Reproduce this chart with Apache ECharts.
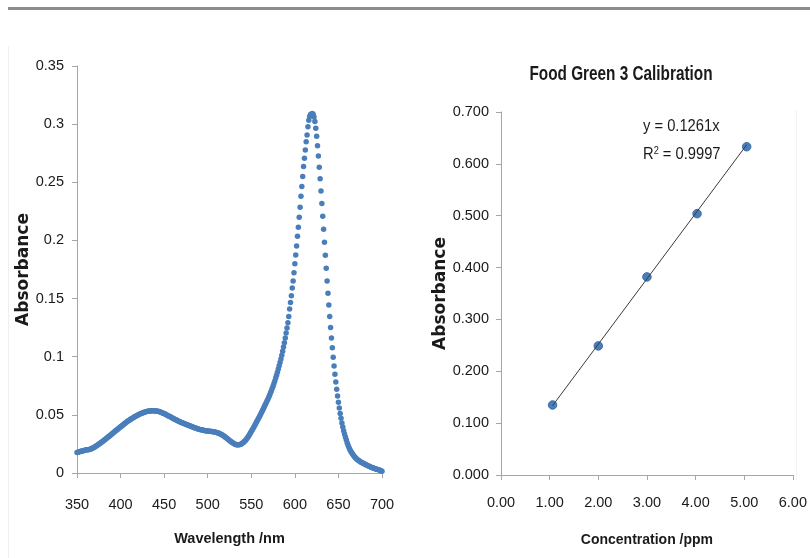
<!DOCTYPE html>
<html>
<head>
<meta charset="utf-8">
<script src="https://cdn.jsdelivr.net/npm/echarts@6/dist/echarts.min.js"></script>
<style>
  html, body { margin: 0; padding: 0; background: #fff; }
  #chart { width: 810px; height: 558px; }
</style>
</head>
<body>
<div id="chart"></div>
<script>
// 左图：吸收光谱，350-700 nm，每 1 nm 一个点
var wavelengthStart = 350;
var wavelengthStep = 1;
var absorbance = [
  0.0176, 0.0178, 0.0181, 0.0183, 0.0186, 0.0188, 0.0190, 0.0192, 0.0194, 0.0196,
  0.0198, 0.0199, 0.0200, 0.0201, 0.0203, 0.0205, 0.0207, 0.0210, 0.0214, 0.0218,
  0.0222, 0.0227, 0.0232, 0.0237, 0.0242, 0.0247, 0.0253, 0.0258, 0.0264, 0.0269,
  0.0275, 0.0281, 0.0287, 0.0293, 0.0299, 0.0305, 0.0311, 0.0317, 0.0323, 0.0330,
  0.0336, 0.0342, 0.0349, 0.0355, 0.0361, 0.0367, 0.0373, 0.0379, 0.0385, 0.0391,
  0.0397, 0.0403, 0.0409, 0.0415, 0.0421, 0.0427, 0.0433, 0.0439, 0.0444, 0.0449,
  0.0454, 0.0459, 0.0464, 0.0469, 0.0474, 0.0478, 0.0483, 0.0487, 0.0491, 0.0495,
  0.0499, 0.0503, 0.0507, 0.0510, 0.0513, 0.0516, 0.0519, 0.0522, 0.0524, 0.0526,
  0.0528, 0.0530, 0.0532, 0.0533, 0.0534, 0.0535, 0.0536, 0.0536, 0.0536, 0.0535,
  0.0534, 0.0533, 0.0532, 0.0530, 0.0528, 0.0526, 0.0523, 0.0520, 0.0517, 0.0514,
  0.0511, 0.0507, 0.0503, 0.0499, 0.0495, 0.0491, 0.0487, 0.0483, 0.0479, 0.0475,
  0.0471, 0.0467, 0.0463, 0.0459, 0.0455, 0.0451, 0.0447, 0.0444, 0.0440, 0.0437,
  0.0434, 0.0431, 0.0428, 0.0425, 0.0422, 0.0419, 0.0416, 0.0413, 0.0410, 0.0407,
  0.0404, 0.0401, 0.0398, 0.0395, 0.0392, 0.0389, 0.0386, 0.0384, 0.0381, 0.0379,
  0.0377, 0.0375, 0.0373, 0.0371, 0.0369, 0.0367, 0.0366, 0.0364, 0.0363, 0.0362,
  0.0361, 0.0360, 0.0359, 0.0358, 0.0357, 0.0356, 0.0355, 0.0354, 0.0353, 0.0351,
  0.0349, 0.0347, 0.0344, 0.0341, 0.0338, 0.0334, 0.0330, 0.0326, 0.0321, 0.0316,
  0.0310, 0.0304, 0.0298, 0.0292, 0.0286, 0.0280, 0.0274, 0.0268, 0.0262, 0.0257,
  0.0253, 0.0249, 0.0246, 0.0244, 0.0243, 0.0242, 0.0243, 0.0245, 0.0248, 0.0252,
  0.0257, 0.0263, 0.0270, 0.0278, 0.0287, 0.0297, 0.0308, 0.0319, 0.0331, 0.0343,
  0.0356, 0.0369, 0.0382, 0.0396, 0.0410, 0.0424, 0.0438, 0.0452, 0.0466, 0.0480,
  0.0494, 0.0509, 0.0524, 0.0539, 0.0555, 0.0571, 0.0587, 0.0603, 0.0619, 0.0635,
  0.0652, 0.0669, 0.0687, 0.0706, 0.0726, 0.0747, 0.0769, 0.0792, 0.0816, 0.0841,
  0.0867, 0.0894, 0.0922, 0.0951, 0.0981, 0.1013, 0.1047, 0.1083, 0.1121, 0.1161,
  0.1203, 0.1247, 0.1293, 0.1346, 0.1410, 0.1467, 0.1524, 0.1590, 0.1652, 0.1723,
  0.1800, 0.1875, 0.1952, 0.2037, 0.2114, 0.2200, 0.2285, 0.2379, 0.2464, 0.2550,
  0.2635, 0.2706, 0.2778, 0.2849, 0.2906, 0.2977, 0.3034, 0.3065, 0.3082, 0.3088,
  0.3092, 0.3085, 0.3062, 0.3022, 0.2965, 0.2895, 0.2815, 0.2725, 0.2630, 0.2530,
  0.2425, 0.2318, 0.2208, 0.2096, 0.1984, 0.1872, 0.1761, 0.1652, 0.1546, 0.1444,
  0.1346, 0.1252, 0.1162, 0.1077, 0.0996, 0.0920, 0.0849, 0.0782, 0.0720, 0.0662,
  0.0608, 0.0558, 0.0512, 0.0470, 0.0431, 0.0396, 0.0364, 0.0335, 0.0309, 0.0285,
  0.0260, 0.0240, 0.0222, 0.0205, 0.0190, 0.0177, 0.0165, 0.0154, 0.0144, 0.0135,
  0.0127, 0.0120, 0.0114, 0.0108, 0.0103, 0.0098, 0.0093, 0.0089, 0.0085, 0.0081,
  0.0077, 0.0073, 0.0069, 0.0066, 0.0062, 0.0059, 0.0055, 0.0052, 0.0048, 0.0045,
  0.0042, 0.0040, 0.0037, 0.0035, 0.0032, 0.0030, 0.0027, 0.0025, 0.0022, 0.0019,
  0.0016
];

// 右图：标准曲线
var concentration = [1.06, 2.0, 3.0, 4.03, 5.05];
var calAbsorbance = [0.135, 0.249, 0.382, 0.504, 0.633];
// 趋势线两端 (y = 0.1261x)
var trendX = [1.06, 5.05];
var trendY = [0.1337, 0.6368];

var titleText = "Food Green 3 Calibration";
var equationText = "y = 0.1261x";
var r2Value = "0.9997";

var labelFont = "'Liberation Sans', Arial, sans-serif";
var boldName = "'DejaVu Sans', sans-serif";
var blue = "#4a7ebb";
var axisGray = "#a6a6a6";
var textColor = "#1a1a1a";

var spectrum = absorbance.map(function (v, i) {
  return [wavelengthStart + i * wavelengthStep, v];
});
var calPoints = concentration.map(function (c, i) {
  return [c, calAbsorbance[i]];
});
var trendPoints = trendX.map(function (x, i) {
  return [x, trendY[i]];
});

function axisCommon() {
  return {
    axisLine: { show: true, lineStyle: { color: axisGray, width: 1 } },
    axisTick: { show: true, inside: false, length: 5, lineStyle: { color: axisGray } },
    splitLine: { show: false }
  };
}

var myChart = echarts.init(document.getElementById("chart"), null, { renderer: "canvas" });

var option = {
  backgroundColor: "#ffffff",
  animation: false,
  grid: [
    { left: 77, top: 66, width: 305, height: 407 },
    { left: 501, top: 112, width: 293, height: 363 }
  ],
  xAxis: [
    Object.assign(axisCommon(), {
      type: "value", gridIndex: 0, min: 350, max: 700, interval: 50,
      name: "Wavelength /nm", nameLocation: "middle", nameGap: 58,
      nameTextStyle: { fontFamily: labelFont, fontSize: 14.5, fontWeight: "bold", color: textColor },
      axisLabel: { margin: 24, fontFamily: labelFont, fontSize: 14.5, color: textColor }
    }),
    Object.assign(axisCommon(), {
      type: "value", gridIndex: 1, min: 0, max: 6, interval: 1,
      name: "Concentration /ppm", nameLocation: "middle", nameGap: 58,
      nameTextStyle: { fontFamily: labelFont, fontSize: 14, fontWeight: "bold", color: textColor },
      axisLabel: {
        margin: 20, fontFamily: labelFont, fontSize: 14.5, color: textColor,
        formatter: function (v) { return v.toFixed(2); }
      }
    })
  ],
  yAxis: [
    Object.assign(axisCommon(), {
      type: "value", gridIndex: 0, min: 0, max: 0.35, interval: 0.05,
      name: "Absorbance", nameLocation: "middle", nameGap: 35, nameRotate: 90,
      nameTextStyle: { fontFamily: boldName, fontSize: 17, fontWeight: "bold", color: textColor },
      axisLabel: { margin: 13, fontFamily: labelFont, fontSize: 14.5, color: textColor }
    }),
    Object.assign(axisCommon(), {
      type: "value", gridIndex: 1, min: 0, max: 0.7, interval: 0.1,
      name: "Absorbance", nameLocation: "middle", nameGap: 36, nameRotate: 90,
      nameTextStyle: { fontFamily: boldName, fontSize: 17, fontWeight: "bold", color: textColor },
      axisLabel: {
        margin: 12, fontFamily: labelFont, fontSize: 14.5, color: textColor,
        formatter: function (v) { return v.toFixed(3); }
      }
    })
  ],
  series: [
    {
      name: "spectrum", type: "scatter", xAxisIndex: 0, yAxisIndex: 0,
      data: spectrum, symbolSize: 5.5,
      itemStyle: { color: blue, opacity: 1 }
    },
    {
      name: "trend", type: "line", xAxisIndex: 1, yAxisIndex: 1,
      data: trendPoints, showSymbol: false, symbol: "none",
      lineStyle: { color: "#3a3a3a", width: 1 }
    },
    {
      name: "calibration", type: "scatter", xAxisIndex: 1, yAxisIndex: 1,
      data: calPoints, symbolSize: 8.5,
      itemStyle: { color: blue, borderColor: "#3d6ea8", borderWidth: 1, opacity: 1 }
    }
  ],
  graphic: [
    { type: "rect", shape: { x: 8, y: 7, width: 802, height: 3 }, style: { fill: "#8c8c8c" }, silent: true },
    { type: "line", shape: { x1: 8.5, y1: 46, x2: 8.5, y2: 558 }, style: { stroke: "#efefef", lineWidth: 1 }, silent: true },
    { type: "line", shape: { x1: 796.5, y1: 110, x2: 796.5, y2: 480 }, style: { stroke: "#f2f2f2", lineWidth: 1 }, silent: true },
    {
      type: "text", x: 621, y: 74, scaleX: 0.73,
      style: { text: titleText, fontFamily: labelFont, fontSize: 21, fontWeight: "bold", fill: textColor, align: "center", verticalAlign: "middle" }
    },
    {
      type: "text", x: 643, y: 127, scaleX: 0.92,
      style: { text: equationText, fontFamily: labelFont, fontSize: 16, fill: textColor, align: "left", verticalAlign: "middle" }
    },
    {
      type: "text", x: 643, y: 155, scaleX: 0.92,
      style: {
        text: "R{sup|2} = " + r2Value,
        fontFamily: labelFont, fontSize: 16, fill: textColor, align: "left", verticalAlign: "middle",
        rich: {
          sup: { fontFamily: labelFont, fontSize: 10, fill: textColor, padding: [0, 0, 8, 0] }
        }
      }
    }
  ]
};

myChart.setOption(option);
window.addEventListener("resize", function () {
  myChart.resize();
});
</script>
</body>
</html>
